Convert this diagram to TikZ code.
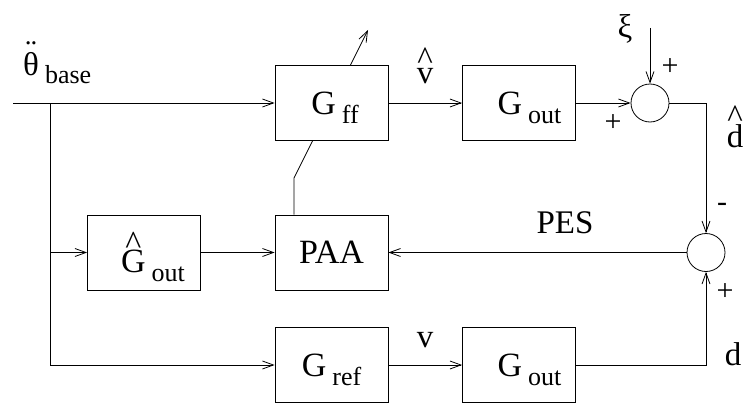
\documentclass[tikz,border=0pt]{standalone}
\usepackage{fontspec}
\setmainfont{Liberation Serif}
\usetikzlibrary{arrows.meta,backgrounds}
\newcommand{\lowsub}[2][9pt]{\hspace{6pt}\raisebox{-#1}[0pt][0pt]{\fontsize{26}{26}\selectfont #2}}
\newcommand{\markover}[3]{\ooalign{\hidewidth\raisebox{#1}{#2}\hidewidth\cr #3\cr}}
\begin{document}
\begin{tikzpicture}
	[x=1pt,y=-1pt,
		block/.style={draw,fill=white,line width=0.8pt,minimum width=113pt,minimum height=75pt,inner sep=0pt,font=\fontsize{34}{40}\selectfont},
		sum/.style={draw,circle,line width=0.8pt,minimum size=38pt,inner sep=0pt},
		signal/.style={-{Straight Barb[length=11pt,width=8pt]},line width=0.8pt},
		wire/.style={line width=0.8pt},
		tag/.style={inner sep=0pt,font=\fontsize{33}{40}\selectfont},
		sign/.style={inner sep=0pt,font=\fontsize{30}{36}\selectfont}]
	\useasboundingbox (0,0) rectangle (746,404);
	% blocks
	\node[block] (Gff) at (331.5,103) {\hspace{7pt}G\lowsub{ff}};
	\node[block] (Gout1) at (519,103) {\hspace{21pt}G\lowsub{out}};
	\node[block] (Ghat) at (144,252.5) {\hspace{18pt}\markover{18pt}{\textasciicircum}{G}\lowsub{out}};
	\node[block] (PAA) at (331.5,252.5) {PAA};
	\node[block] (Gref) at (331.5,365) {G\lowsub{ref}};
	\node[block] (Gout2) at (519,365) {\hspace{21pt}G\lowsub{out}};
	\node[sum] (sum1) at (650,103) {};
	\node[sum] (sum2) at (706,252.5) {};
	% helper points
	\coordinate (in) at (13,103);
	\coordinate (b1) at (50,103);
	\coordinate (b2) at (50,252.5);
	\coordinate (b3) at (50,365);
	\coordinate (xi) at (650,28);
	\coordinate (c1) at (706,103);
	\coordinate (c3) at (706,365);
	\coordinate (p1) at (294,178);
	\coordinate (p2) at (368,30);
	% signals
	\draw[signal] (in) -- (Gff);
	\draw[wire] (b1) -- (b3);
	\draw[signal] (b2) -- (Ghat);
	\draw[signal] (b3) -- (Gref);
	\draw[signal] (Ghat) -- (PAA);
	\draw[signal] (Gff) -- (Gout1);
	\draw[signal] (Gref) -- (Gout2);
	\draw[signal] (Gout1) -- (sum1);
	\draw[signal] (xi) -- (sum1);
	\draw[signal] (sum1) -- (c1) -- (sum2);
	\draw[signal] (Gout2) -- (c3) -- (sum2);
	\draw[signal] (sum2) -- (PAA);
	\begin{scope}[on background layer]
	\draw[signal] (PAA.north -| p1) -- (p1) -- (p2);
	\end{scope}
	% labels
	\node[tag,anchor=base west] (thb) at (23,75) {\markover{13pt}{¨}{θ}\lowsub[8pt]{base}};
	\node[tag,anchor=base] (vhat) at (425,83) {\markover{13.5pt}{\textasciicircum}{v}};
	\node[tag,anchor=base] (vlab) at (425,347) {v};
	\node[tag,anchor=base] (pes) at (565,233) {PES};
	\node[tag] (xilab) at (625,29) {ξ};
	\node[tag,anchor=base] (dhat) at (735,147) {\markover{19.5pt}{\textasciicircum}{d}};
	\node[tag,anchor=base] (dlab) at (733,365) {d};
	\node[sign] (s1) at (670,67) {+};
	\node[sign] (s2) at (613,123) {+};
	\node[sign] (s3) at (722,207) {-};
	\node[sign] (s4) at (725,292) {+};
\end{tikzpicture}
\end{document}
